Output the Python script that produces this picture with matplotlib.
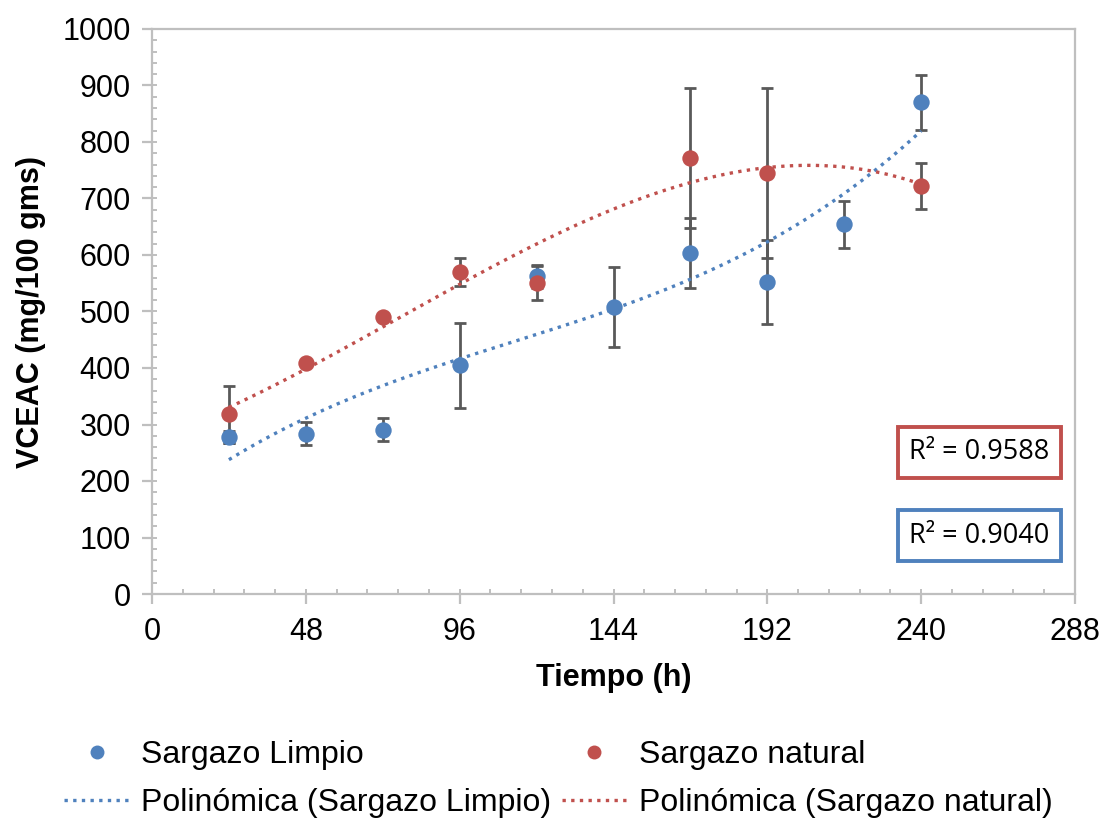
import numpy as np
import matplotlib
matplotlib.use("Agg")
import matplotlib.pyplot as plt
from matplotlib.ticker import MultipleLocator

# ---- data ----
t_limpio = [24, 48, 72, 96, 120, 144, 168, 192, 216, 240]
y_limpio = [278, 284, 291, 405, 562, 508, 603, 552, 654, 870]
e_limpio = [11, 20, 20, 75, 20, 70, 62, 75, 42, 48]

t_natural = [24, 48, 72, 96, 120, 168, 192, 240]
y_natural = [318, 409, 491, 570, 550, 772, 745, 722]
e_natural = [50, 0, 0, 24, 30, 124, 150, 40]

r2_limpio = "R² = 0.9040"
r2_natural = "R² = 0.9588"

x_ticks = [0, 48, 96, 144, 192, 240, 288]

BLUE = "#4F81BD"
RED = "#C0504D"
GRID = "#BFBFBF"
ERR = "#595959"

plt.rcParams['font.family'] = ['Liberation Sans', 'DejaVu Sans']

fig = plt.figure(figsize=(11.1, 8.18), dpi=100)
ax = fig.add_axes([152/1110, 1-594/818, 923/1110, 565/818])

# error bars
ax.errorbar(t_limpio, y_limpio, yerr=e_limpio, fmt='none', ecolor=ERR,
            elinewidth=2.0, capsize=4.2, capthick=2.0, zorder=2)
ax.errorbar(t_natural, y_natural, yerr=e_natural, fmt='none', ecolor=ERR,
            elinewidth=2.0, capsize=4.2, capthick=2.0, zorder=2)

# polynomial trendlines (order 3)
for t, y, c, lab in [(t_limpio, y_limpio, BLUE, "Polinómica (Sargazo Limpio)"),
                     (t_natural, y_natural, RED, "Polinómica (Sargazo natural)")]:
    p = np.polyfit(t, y, 3)
    xx = np.linspace(min(t), max(t), 300)
    ax.plot(xx, np.polyval(p, xx), linestyle=(0, (1, 1.6)), color=c, lw=2.4,
            zorder=3, label=lab)

ax.plot(t_limpio, y_limpio, 'o', color=BLUE, ms=11.8, zorder=4,
        label="Sargazo Limpio", markeredgewidth=0)
ax.plot(t_natural, y_natural, 'o', color=RED, ms=11.8, zorder=5,
        label="Sargazo natural", markeredgewidth=0)

ax.set_xlim(0, 288)
ax.set_ylim(0, 1000)
ax.set_xticks(x_ticks)
ax.xaxis.set_minor_locator(MultipleLocator(9.6))
ax.yaxis.set_major_locator(MultipleLocator(100))
ax.yaxis.set_minor_locator(MultipleLocator(20))
ax.xaxis.remove_overlapping_locs = False
ax.yaxis.remove_overlapping_locs = False

for s in ax.spines.values():
    s.set_color(GRID)
    s.set_linewidth(1.6)

ax.tick_params(which='major', direction='out', length=7.2, width=1.6,
               color=GRID, labelsize=22, labelcolor='black')
ax.tick_params(which='minor', direction='in', length=3.8, width=1.4, color=GRID)
ax.tick_params(axis='x', which='major', pad=9)
ax.tick_params(axis='y', which='major', pad=8)

ax.set_xlabel("Tiempo (h)", fontsize=22, fontweight='bold', labelpad=12)
ax.set_ylabel("VCEAC (mg/100 gms)", fontsize=22, fontweight='bold', labelpad=12)

# R² boxes
ax.text(0.896, 0.251, r2_natural, transform=ax.transAxes, ha='center', va='center',
        fontsize=19.5, family=['Open Sans', 'DejaVu Sans'],
        bbox=dict(boxstyle='square,pad=0.42', fc='white', ec=RED, lw=2.8))
ax.text(0.896, 0.1035, r2_limpio, transform=ax.transAxes, ha='center', va='center',
        fontsize=19.5, family=['Open Sans', 'DejaVu Sans'],
        bbox=dict(boxstyle='square,pad=0.42', fc='white', ec=BLUE, lw=2.8))

handles, labels = ax.get_legend_handles_labels()
order = [labels.index("Sargazo Limpio"), labels.index("Polinómica (Sargazo Limpio)"),
         labels.index("Sargazo natural"), labels.index("Polinómica (Sargazo natural)")]
fig.legend([handles[i] for i in order], [labels[i] for i in order],
           ncol=2, loc='upper left', bbox_to_anchor=(64/1110, 1-740/818),
           frameon=False, fontsize=23, handlelength=2.04, handletextpad=0.38,
           columnspacing=0.32, labelspacing=0.57, markerscale=0.85,
           borderpad=0, borderaxespad=0)

fig.savefig("out.png", dpi=100)
